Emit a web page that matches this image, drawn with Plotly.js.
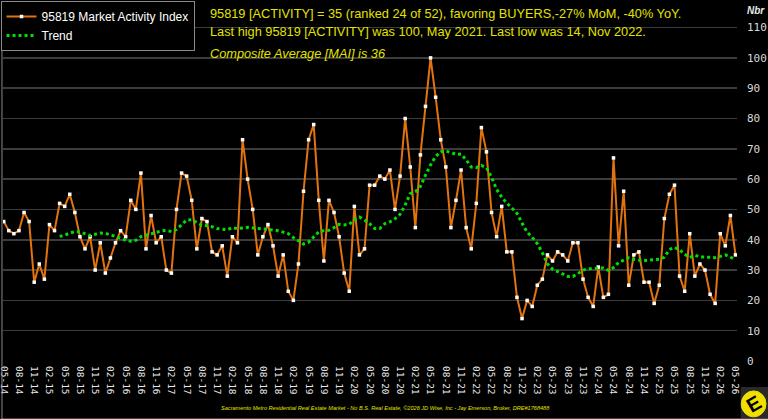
<!DOCTYPE html>
<html>
<head>
<meta charset="utf-8">
<script src="https://cdn.plot.ly/plotly-3.0.1.min.js"></script>
<style>html,body{margin:0;padding:0;background:#000;}#chart{width:768px;height:419px;}</style>
</head>
<body>
<div id="chart"></div>
<script>
const months = [
 "05-14","06-14","07-14","08-14","09-14","10-14","11-14","12-14",
 "01-15","02-15","03-15","04-15","05-15","06-15","07-15","08-15","09-15","10-15","11-15","12-15",
 "01-16","02-16","03-16","04-16","05-16","06-16","07-16","08-16","09-16","10-16","11-16","12-16",
 "01-17","02-17","03-17","04-17","05-17","06-17","07-17","08-17","09-17","10-17","11-17","12-17",
 "01-18","02-18","03-18","04-18","05-18","06-18","07-18","08-18","09-18","10-18","11-18","12-18",
 "01-19","02-19","03-19","04-19","05-19","06-19","07-19","08-19","09-19","10-19","11-19","12-19",
 "01-20","02-20","03-20","04-20","05-20","06-20","07-20","08-20","09-20","10-20","11-20","12-20",
 "01-21","02-21","03-21","04-21","05-21","06-21","07-21","08-21","09-21","10-21","11-21","12-21",
 "01-22","02-22","03-22","04-22","05-22","06-22","07-22","08-22","09-22","10-22","11-22","12-22",
 "01-23","02-23","03-23","04-23","05-23","06-23","07-23","08-23","09-23","10-23","11-23","12-23",
 "01-24","02-24","03-24","04-24","05-24","06-24","07-24","08-24","09-24","10-24","11-24","12-24",
 "01-25","02-25","03-25","04-25","05-25","06-25","07-25","08-25","09-25","10-25","11-25","12-25",
 "01-26","02-26","03-26","04-26","05-26"
];

const activity = [
 46,43,42,43,49,46,26,32,27,45,
 43,52,51,55,49,41,37,41,30,39,
 29,34,39,43,41,53,50,62,37,48,
 39,41,30,29,50,62,61,53,37,47,
 46,36,35,38,28,41,39,73,60,50,
 35,41,45,38,28,35,23,20,32,56,
 73,78,53,33,53,49,41,29,23,51,
 35,37,58,58,61,60,63,50,61,80,
 64,44,68,84,100,87,73,64,44,53,
 63,44,37,52,77,69,49,41,51,36,
 36,21,14,20,18,25,27,35,33,36,
 35,33,39,39,27,21,18,31,21,22,
 67,38,56,25,35,36,26,26,19,25,
 47,55,58,28,23,42,28,32,30,22,
 19,42,38,48,35
];

const trend = [
 null,null,null,null,null,null,null,null,null,null,
 null,41.1,41.5,42.2,42.7,42.6,41.9,41.4,41.8,42.2,
 42.1,41.7,41.1,40.5,39.8,39.5,39.8,41.0,41.5,41.9,
 42.5,42.9,43.1,42.7,43.4,44.8,46.5,46.6,45.7,44.8,
 44.6,44.3,43.7,43.5,43.3,44.0,43.7,43.9,44.1,43.9,
 43.8,43.5,43.4,43.2,43.0,42.5,42.0,40.7,39.7,38.6,
 39.2,41.0,42.6,43.0,43.1,44.0,45.1,44.9,45.1,46.5,
 47.5,46.5,45.3,43.7,43.7,45.3,45.9,46.9,48.4,51.5,
 55.2,55.8,57.6,61.3,64.7,67.5,69.0,69.3,68.7,68.2,
 68.3,66.4,64.0,63.8,64.5,63.8,60.6,56.6,54.1,52.0,
 50.5,48.7,45.5,42.5,40.8,38.7,35.7,32.0,30.3,29.5,
 28.6,27.9,27.9,28.8,30.0,30.4,30.5,30.7,30.7,29.9,
 30.8,32.5,33.3,34.0,33.5,33.2,33.1,33.3,33.5,33.6,
 34.2,36.8,37.5,36.7,35.2,34.2,34.9,34.3,34.3,34.2,
 34.1,34.5,35.0,34.3,33.3
];

const tickLabels = [
 "05-14","08-14","11-14","02-15","05-15","08-15","11-15","02-16","05-16","08-16","11-16",
 "02-17","05-17","08-17","11-17","02-18","05-18","08-18","11-18","02-19","05-19","08-19","11-19",
 "02-20","05-20","08-20","11-20","02-21","05-21","08-21","11-21","02-22","05-22","08-22","11-22",
 "02-23","05-23","08-23","11-23","02-24","05-24","08-24","11-24","02-25","05-25","08-25","11-25",
 "02-26","05-26"
];

const yTicks = [0,10,20,30,40,50,60,70,80,90,100,110];

const headline1 = "95819 [ACTIVITY] = 35 (ranked 24 of 52), favoring BUYERS,-27% MoM, -40% YoY.";
const headline2 = "Last high 95819 [ACTIVITY] was 100, May 2021. Last low was 14, Nov 2022.";
const headline3 = "Composite Average [MAI] is 36";
const footer = "Sacramento Metro Residential Real Estate Market - No B.S. Real Estate, ©2026 JD Wise, Inc - Jay Emerson, Broker, DRE#1768488";

const yellow = '#e3e300';

const traces = [
 {
  x: months, y: activity, type: 'scatter', mode: 'lines+markers',
  name: '95819 Market Activity Index',
  line: {color: '#e2730f', width: 2},
  marker: {color: '#ffffff', size: 3.5, symbol: 'square'}
 },
 {
  x: months, y: trend, type: 'scatter', mode: 'lines',
  name: 'Trend',
  line: {color: '#00e000', width: 3, dash: 'dot'},
  connectgaps: false
 }
];

const layout = {
 width: 768, height: 419,
 paper_bgcolor: '#000', plot_bgcolor: '#000',
 margin: {l: 2, r: 31, t: 2, b: 58},
 showlegend: true,
 legend: {
  x: -0.002, y: 1.003, xanchor: 'left', yanchor: 'top',
  bgcolor: '#000', bordercolor: '#8a8a8a', borderwidth: 1,
  font: {family: 'Liberation Sans, Arial, sans-serif', size: 12, color: '#ffffff'},
  itemwidth: 30, tracegroupgap: 0
 },
 xaxis: {
  type: 'category',
  range: [-0.14, 144.3],
  tickmode: 'array', tickvals: tickLabels, ticktext: tickLabels,
  tickangle: 90,
  tickfont: {family: 'DejaVu Sans Mono, monospace', size: 9.5, color: '#e8e8e8'},
  showgrid: false, zeroline: false, showline: false, ticks: '',
  ticklabelstandoff: 4
 },
 yaxis: {
  side: 'right',
  range: [0, 118.1],
  tickmode: 'array', tickvals: yTicks,
  tickfont: {family: 'DejaVu Sans Mono, monospace', size: 11, color: '#d8d8d8'},
  showgrid: true, gridcolor: '#3c3c3c', gridwidth: 1.5,
  zeroline: false, showline: false, ticks: '',
  ticklabelstandoff: 9
 },
 shapes: [
  {type: 'line', xref: 'paper', yref: 'paper', x0: -0.0014, x1: -0.0014, y0: -0.163, y1: 1.006, line: {color: '#8a8a8a', width: 1}},
  {type: 'line', xref: 'paper', yref: 'paper', x0: -0.003, x1: 1.042, y0: -0.162, y1: -0.162, line: {color: '#8a8a8a', width: 1}},
  {type: 'rect', layer: 'below', xref: 'paper', yref: 'paper', x0: 1.005, x1: 1.045, y0: -0.0724, y1: -0.16, fillcolor: '#2a2a2a', line: {width: 0}},
  {type: 'circle', layer: 'below', xref: 'paper', yref: 'paper', x0: 1.0058, x1: 1.0395, y0: -0.0836, y1: -0.156, fillcolor: '#f0e000', line: {color: '#f0e000', width: 1}}
 ],
 annotations: [
  {text: headline1, xref: 'paper', yref: 'paper', x: 0.2789, y: 0.972, xanchor: 'left', yanchor: 'middle', showarrow: false,
   font: {family: 'Liberation Sans, Arial, sans-serif', size: 12.75, color: yellow}},
  {text: headline2, xref: 'paper', yref: 'paper', x: 0.2789, y: 0.919, xanchor: 'left', yanchor: 'middle', showarrow: false,
   font: {family: 'Liberation Sans, Arial, sans-serif', size: 12.75, color: yellow}},
  {text: '<i>' + headline3 + '</i>', xref: 'paper', yref: 'paper', x: 0.2789, y: 0.858, xanchor: 'left', yanchor: 'middle', showarrow: false,
   font: {family: 'Liberation Sans, Arial, sans-serif', size: 12.75, color: yellow}},
  {text: '<b><i>Nbr</i></b>', xref: 'paper', yref: 'paper', x: 1.0265, y: 0.978, xanchor: 'center', yanchor: 'middle', showarrow: false,
   font: {family: 'Liberation Sans, Arial, sans-serif', size: 10, color: '#e8e8e8'}},
  {text: '<i>' + footer + '</i>', xref: 'paper', yref: 'paper', x: 0.521, y: -0.131, xanchor: 'center', yanchor: 'middle', showarrow: false,
   font: {family: 'Liberation Sans, Arial, sans-serif', size: 5.6, color: yellow}},
  {text: '<b>E</b>', xref: 'paper', yref: 'paper', x: 1.0226, y: -0.12, xanchor: 'center', yanchor: 'middle', showarrow: false, textangle: -30,
   font: {family: 'Liberation Sans, Arial, sans-serif', size: 20, color: '#000'}}
 ]
};

Plotly.newPlot('chart', traces, layout, {displayModeBar: false, staticPlot: true});
</script>
</body>
</html>
